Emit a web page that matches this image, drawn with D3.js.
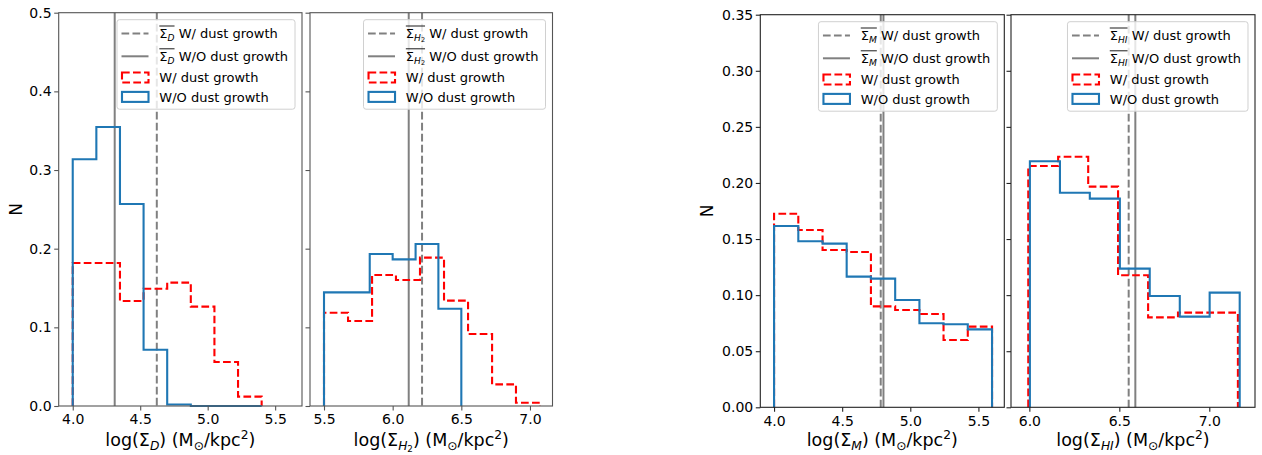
<!DOCTYPE html>
<html>
<head>
<meta charset="utf-8">
<script src="https://d3js.org/d3.v7.min.js"></script>
<style>
  body { margin: 0; background: #fff; }
  text { font-family: "DejaVu Sans", sans-serif; fill: #000; }
</style>
</head>
<body>
<svg id="chart" width="1262" height="455"></svg>
<script>
// ---- data ----
var dEdges = [4.0, 4.175, 4.35, 4.525, 4.7, 4.875, 5.05, 5.225, 5.4];
var dWith = [0.1818, 0.1818, 0.1335, 0.149, 0.1568, 0.1263, 0.0559, 0.0119];
var dWithout = [0.3136, 0.3547, 0.2568, 0.0716, 0.002, 0, 0, 0];
var dMeans = [4.623, 4.311];   // with, without

var h2EdgesWith = [5.5, 5.675, 5.85, 6.024, 6.199, 6.374, 6.549, 6.724, 6.898, 7.073];
var h2With = [0.1186, 0.108, 0.1665, 0.1602, 0.1886, 0.1339, 0.0915, 0.0275, 0.0042];
var h2EdgesWithout = [5.5, 5.667, 5.833, 6.0, 6.167, 6.333, 6.5];
var h2Without = [0.1445, 0.1445, 0.1932, 0.1864, 0.2059, 0.1237];
var h2Means = [6.214, 6.117];

var mEdges = [4.0, 4.178, 4.356, 4.533, 4.711, 4.889, 5.067, 5.244, 5.422, 5.6];
var mWith = [0.1726, 0.158, 0.1402, 0.1385, 0.09, 0.0868, 0.0832, 0.06, 0.0719];
var mWithout = [0.1616, 0.148, 0.1459, 0.1165, 0.1147, 0.0957, 0.0749, 0.074, 0.0695];
var mMeans = [4.783, 4.803];

var hiEdgesWith = [5.994, 6.16, 6.327, 6.493, 6.66, 6.826, 6.993, 7.159];
var hiWith = [0.2151, 0.2234, 0.1967, 0.1177, 0.0802, 0.0844, 0.0844];
var hiEdgesWithout = [6.003, 6.17, 6.336, 6.503, 6.669, 6.836, 7.002, 7.169];
var hiWithout = [0.2193, 0.1913, 0.186, 0.1236, 0.0992, 0.0808, 0.1022];
var hiMeans = [6.552, 6.589];

var yTicksA = [0, 0.1, 0.2, 0.3, 0.4, 0.5];
var yTicksB = [0, 0.05, 0.1, 0.15, 0.2, 0.25, 0.3, 0.35];

// ---- layout ----
var svg = d3.select("#chart");
var RED = "#ff0000", BLUE = "#1f77b4", GRAY = "#808080";

var panels = [
  { l: 58.7, r: 302, t: 12.7, b: 406, xd: [3.896, 5.699], yd: [0, 0.5], xt: [4.0, 4.5, 5.0, 5.5], yt: yTicksA, yfmt: ".1f", ylab: 37, sym: "D",
    ew: dEdges, vw: dWith, eo: dEdges, vo: dWithout, means: dMeans, spine: "#555" },
  { l: 310, r: 552.5, t: 12.7, b: 406, xd: [5.398, 7.164], yd: [0, 0.5], xt: [5.5, 6.0, 6.5, 7.0], yt: yTicksA, yfmt: ".1f", ylab: 0, sym: "H2",
    ew: h2EdgesWith, vw: h2With, eo: h2EdgesWithout, vo: h2Without, means: h2Means, spine: "#555" },
  { l: 760.3, r: 1004.3, t: 14.7, b: 407.3, xd: [3.899, 5.69], yd: [0, 0.35], xt: [4.0, 4.5, 5.0, 5.5], yt: yTicksB, yfmt: ".2f", ylab: 47, sym: "M",
    ew: mEdges, vw: mWith, eo: mEdges, vo: mWithout, means: mMeans, spine: "#222" },
  { l: 1011, r: 1255, t: 14.7, b: 407.3, xd: [5.898, 7.254], yd: [0, 0.35], xt: [6.0, 6.5, 7.0], yt: yTicksB, yfmt: ".2f", ylab: 0, sym: "HI",
    ew: hiEdgesWith, vw: hiWith, eo: hiEdgesWithout, vo: hiWithout, means: hiMeans, spine: "#222" }
];

// mathtext-ish rendering with tspans
function rich(sel, parts, size) {
  var cur = 0;
  parts.forEach(function(p) {
    var ts = sel.append("tspan").text(p.t);
    var shift = 0, fs = size;
    if (p.sub) { shift = size * 0.2; fs = size * 0.7; }
    if (p.sub2) { shift = size * 0.33; fs = size * 0.5; }
    if (p.sup) { shift = -size * 0.4; fs = size * 0.7; }
    ts.attr("dy", shift - cur).attr("font-size", fs);
    if (p.it) ts.attr("font-style", "italic");
    cur = shift;
  });
  return cur;
}

function symParts(s) {
  if (s === "H2") return [{ t: "Σ" }, { t: "H", sub: 1, it: 1 }, { t: "2", sub2: 1 }];
  return [{ t: "Σ" }, { t: s, sub: 1, it: 1 }];
}

function stepPoints(edges, vals) {
  var pts = [[edges[0], 0]];
  vals.forEach(function(v, i) { pts.push([edges[i], v]); pts.push([edges[i + 1], v]); });
  pts.push([edges[edges.length - 1], 0]);
  return pts;
}

panels.forEach(function(p) {
  var x = d3.scaleLinear().domain(p.xd).range([p.l, p.r]);
  var y = d3.scaleLinear().domain(p.yd).range([p.b, p.t]);
  var g = svg.append("g");

  // mean lines
  g.append("line").attr("x1", x(p.means[0])).attr("x2", x(p.means[0]))
    .attr("y1", p.t).attr("y2", p.b).attr("stroke", GRAY).attr("stroke-width", 2)
    .attr("stroke-dasharray", "7.7,3.3");
  g.append("line").attr("x1", x(p.means[1])).attr("x2", x(p.means[1]))
    .attr("y1", p.t).attr("y2", p.b).attr("stroke", GRAY).attr("stroke-width", 2);

  var line = d3.line().x(function(d) { return x(d[0]); }).y(function(d) { return y(d[1]); });
  g.append("path").attr("d", line(stepPoints(p.ew, p.vw))).attr("fill", "none")
    .attr("stroke", RED).attr("stroke-width", 2.1).attr("stroke-dasharray", "7.7,3.3");
  g.append("path").attr("d", line(stepPoints(p.eo, p.vo))).attr("fill", "none")
    .attr("stroke", BLUE).attr("stroke-width", 2.1);

  // frame
  g.append("rect").attr("x", p.l).attr("y", p.t).attr("width", p.r - p.l).attr("height", p.b - p.t)
    .attr("fill", "none").attr("stroke", p.spine).attr("stroke-width", 1.1);

  // axes
  var xa = g.append("g").attr("transform", "translate(0," + p.b + ")")
    .call(d3.axisBottom(x).tickValues(p.xt).tickFormat(d3.format(".1f")).tickSize(4.5).tickPadding(3.9));
  var ya = g.append("g").attr("transform", "translate(" + p.l + ",0)")
    .call(d3.axisLeft(y).tickValues(p.yt).tickFormat(p.ylab ? d3.format(p.yfmt) : "").tickSize(4.5).tickPadding(2.6));
  [xa, ya].forEach(function(a) {
    a.select(".domain").remove();
    a.selectAll("line").attr("stroke", p.spine).attr("stroke-width", 1.1);
    a.selectAll("text").attr("font-size", 14).attr("font-family", "DejaVu Sans").attr("fill", "#000");
  });

  // axis labels
  var xl = g.append("text").attr("x", (p.l + p.r) / 2).attr("y", 446).attr("text-anchor", "middle")
    .attr("font-size", 17.5);
  var parts = [{ t: "log(" }].concat(symParts(p.sym)).concat([
    { t: ") (M" }, { t: "⊙", sub: 1 }, { t: "/kpc" }, { t: "2", sup: 1 }, { t: ")" }]);
  rich(xl, parts, 17.5);

  if (p.ylab) {
    g.append("text").attr("transform", "translate(" + (p.l - p.ylab) + "," + ((p.t + p.b) / 2) + ") rotate(-90)")
      .attr("text-anchor", "middle").attr("font-size", 17).text("N");
  }

  // legend
  var fs = 13;
  var lg = g.append("g");
  var box = lg.append("rect").attr("fill", "#fff").attr("fill-opacity", 0.8)
    .attr("stroke", "#d0d0d0").attr("stroke-width", 1).attr("rx", 2.5);
  var rows = [13.8, 36.6, 57.8, 77.2];
  var labels = [" W/ dust growth", " W/O dust growth", "W/ dust growth", "W/O dust growth"];
  var texts = [];
  var maxW = 0;
  labels.forEach(function(lab, i) {
    var t = lg.append("text").attr("y", rows[i] + 4.7).attr("font-size", fs);
    var symW = 0;
    if (i < 2) {
      var c = rich(t, symParts(p.sym), fs);
      symW = t.node().getComputedTextLength();
      t.append("tspan").attr("dy", -c).attr("font-size", fs).text(lab);
    } else {
      t.text(lab);
    }
    var w = t.node().getComputedTextLength();
    if (w > maxW) maxW = w;
    texts.push({ t: t, symW: symW, y: rows[i] });
  });
  var bw = 42.3 + maxW + 7, bh = 89.5;
  var bx = p.r - 7 - bw, by = p.t + 7;
  lg.attr("transform", "translate(" + bx + "," + by + ")");
  box.attr("width", bw).attr("height", bh);
  texts.forEach(function(o, i) {
    o.t.attr("x", 42.3);
    if (i < 2) {
      lg.append("line").attr("x1", 42.3).attr("x2", 42.3 + o.symW)
        .attr("y1", o.y + 4.7 - 12.2).attr("y2", o.y + 4.7 - 12.2)
        .attr("stroke", "#000").attr("stroke-width", 0.9);
    }
  });
  lg.append("line").attr("x1", 4.5).attr("x2", 31.5).attr("y1", rows[0]).attr("y2", rows[0])
    .attr("stroke", GRAY).attr("stroke-width", 2).attr("stroke-dasharray", "7.7,3.3");
  lg.append("line").attr("x1", 4.5).attr("x2", 31.5).attr("y1", rows[1]).attr("y2", rows[1])
    .attr("stroke", GRAY).attr("stroke-width", 2);
  lg.append("rect").attr("x", 5).attr("y", rows[2] - 5).attr("width", 26.5).attr("height", 10)
    .attr("fill", "none").attr("stroke", RED).attr("stroke-width", 2.1).attr("stroke-dasharray", "7.7,3.3");
  lg.append("rect").attr("x", 5).attr("y", rows[3] - 5).attr("width", 26.5).attr("height", 10)
    .attr("fill", "none").attr("stroke", BLUE).attr("stroke-width", 2.1);
});
</script>
</body>
</html>
